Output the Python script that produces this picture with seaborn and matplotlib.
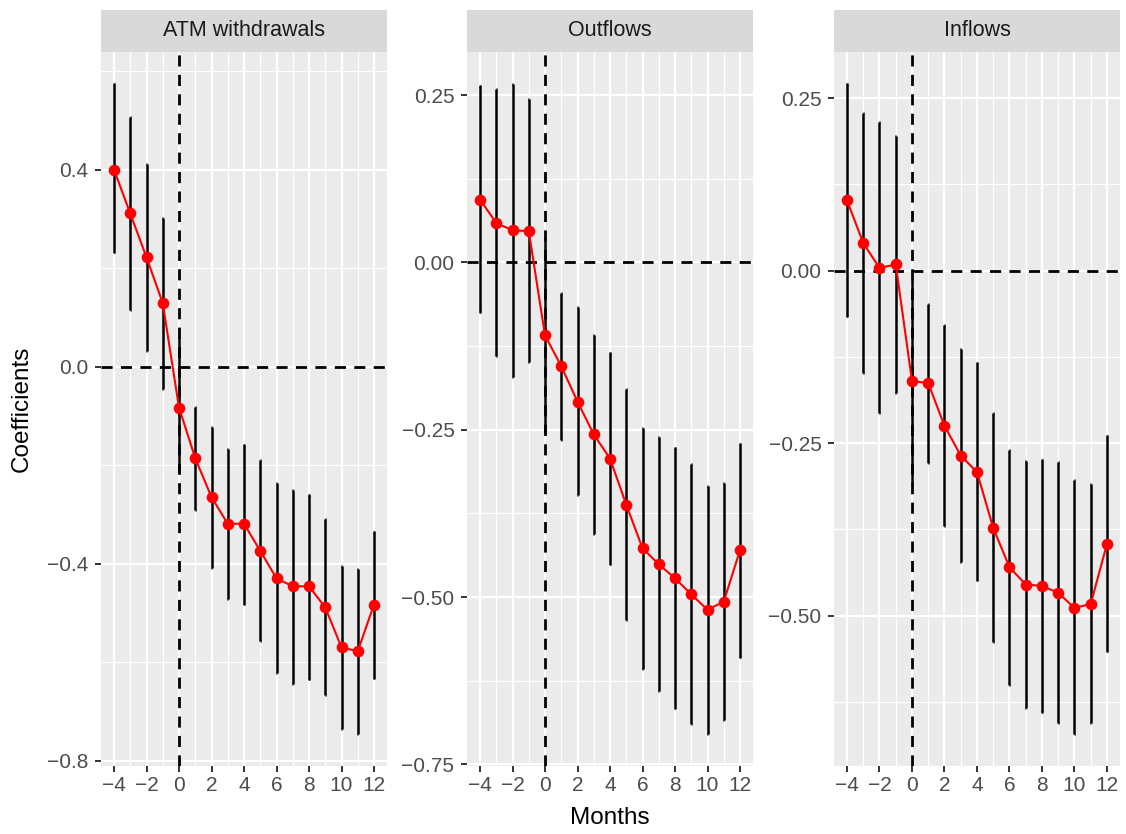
import numpy as np
import pandas as pd
import matplotlib
matplotlib.use('Agg')
import matplotlib.pyplot as plt
import seaborn as sns

plt.rcParams['font.family'] = ['Liberation Sans', 'DejaVu Sans']

# event-time months
months = list(range(-4, 13))

# ATM withdrawals
atm_coef = [0.400, 0.311, 0.222, 0.129, -0.083, -0.186, -0.265, -0.319, -0.319,
            -0.374, -0.430, -0.446, -0.446, -0.489, -0.570, -0.578, -0.483]
atm_hi = [0.573, 0.506, 0.411, 0.301, 0.060, -0.081, -0.123, -0.167, -0.160,
          -0.190, -0.236, -0.251, -0.260, -0.310, -0.405, -0.411, -0.335]
atm_lo = [0.232, 0.116, 0.031, -0.046, -0.211, -0.292, -0.408, -0.472, -0.482,
          -0.558, -0.622, -0.644, -0.634, -0.667, -0.735, -0.745, -0.632]

# Outflows
out_coef = [0.094, 0.059, 0.048, 0.047, -0.109, -0.155, -0.208, -0.257, -0.293,
            -0.362, -0.427, -0.451, -0.472, -0.496, -0.519, -0.507, -0.430]
out_hi = [0.263, 0.259, 0.266, 0.244, 0.037, -0.046, -0.067, -0.108, -0.136,
          -0.189, -0.247, -0.261, -0.277, -0.301, -0.334, -0.330, -0.271]
out_lo = [-0.074, -0.140, -0.171, -0.149, -0.253, -0.265, -0.348, -0.406, -0.450,
          -0.535, -0.607, -0.640, -0.666, -0.690, -0.704, -0.684, -0.589]

# Inflows
in_coef = [0.102, 0.040, 0.004, 0.009, -0.160, -0.163, -0.225, -0.268, -0.292,
           -0.373, -0.430, -0.455, -0.457, -0.467, -0.489, -0.483, -0.396]
in_hi = [0.270, 0.228, 0.215, 0.195, -0.013, -0.049, -0.079, -0.114, -0.134,
         -0.207, -0.260, -0.276, -0.274, -0.278, -0.304, -0.309, -0.239]
in_lo = [-0.066, -0.148, -0.206, -0.178, -0.308, -0.279, -0.370, -0.422, -0.449,
         -0.539, -0.600, -0.634, -0.640, -0.656, -0.671, -0.655, -0.552]

panel_names = ['ATM withdrawals', 'Outflows', 'Inflows']
y_major = [[-0.8, -0.4, 0.0, 0.4],
           [-0.75, -0.50, -0.25, 0.00, 0.25],
           [-0.50, -0.25, 0.00, 0.25]]
y_labels = [['\u22120.8', '\u22120.4', '0.0', '0.4'],
            ['\u22120.75', '\u22120.50', '\u22120.25', '0.00', '0.25'],
            ['\u22120.50', '\u22120.25', '0.00', '0.25']]
x_major = [-4, -2, 0, 2, 4, 6, 8, 10, 12]
x_labels = ['\u22124', '\u22122', '0', '2', '4', '6', '8', '10', '12']

frames = []
for name, c, lo, hi in zip(panel_names,
                           [atm_coef, out_coef, in_coef],
                           [atm_lo, out_lo, in_lo],
                           [atm_hi, out_hi, in_hi]):
    frames.append(pd.DataFrame({'panel': name, 'month': months,
                                'coef': c, 'lo': lo, 'hi': hi}))
df = pd.concat(frames, ignore_index=True)

W, H = 1126, 834
fig = plt.figure(figsize=(W / 100, H / 100), dpi=100)

panel_left = [101, 467, 834]
panel_w = 286
top_px, bottom_px = 52, 766
strip_top = 10

grid_major = 1.6
grid_minor = 0.8

for i, name in enumerate(panel_names):
    sub = df[df['panel'] == name]
    ax = fig.add_axes([panel_left[i] / W, (H - bottom_px) / H,
                       panel_w / W, (bottom_px - top_px) / H])
    ax.set_facecolor('#EBEBEB')
    for s in ax.spines.values():
        s.set_visible(False)

    # limits like ggplot: 5% expansion of data range
    ymin, ymax = min(sub['lo'].min(), 0), max(sub['hi'].max(), 0)
    pad = (ymax - ymin) * 0.05
    ax.set_ylim(ymin - pad, ymax + pad)
    xpad = (max(months) - min(months)) * 0.05
    ax.set_xlim(min(months) - xpad, max(months) + xpad)

    # grid
    ymaj = y_major[i]
    step = ymaj[1] - ymaj[0]
    ymin_all = [v + step / 2 for v in [ymaj[0] - step] + ymaj]
    for v in ymin_all:
        ax.axhline(v, color='white', lw=grid_minor, zorder=0)
    for v in ymaj:
        ax.axhline(v, color='white', lw=grid_major, zorder=0)
    for v in range(-3, 12, 2):
        ax.axvline(v, color='white', lw=grid_minor, zorder=0)
    for v in x_major:
        ax.axvline(v, color='white', lw=grid_major, zorder=0)

    # reference lines
    ax.axhline(0, color='black', lw=2.0, ls=(0, (4, 3)), zorder=1)
    ax.axvline(0, color='black', lw=2.0, ls=(0, (4, 3)), zorder=1)

    # error bars
    ax.vlines(sub['month'], sub['lo'], sub['hi'], color='black', lw=1.8, zorder=2)
    ax.hlines(sub['lo'], sub['month'] - 0.04, sub['month'] + 0.04, color='black', lw=1.8, zorder=2)
    ax.hlines(sub['hi'], sub['month'] - 0.04, sub['month'] + 0.04, color='black', lw=1.8, zorder=2)

    sns.lineplot(data=sub, x='month', y='coef', color='red', linewidth=1.5,
                 ax=ax, zorder=3)
    sns.scatterplot(data=sub, x='month', y='coef', color='red', s=70,
                    linewidth=0, ax=ax, zorder=4)

    ax.set_xlabel('')
    ax.set_ylabel('')
    ax.set_xticks(x_major)
    ax.set_xticklabels(x_labels)
    ax.set_yticks(ymaj)
    ax.set_yticklabels(y_labels[i])
    ax.tick_params(axis='both', length=4, width=1.4, color='#333333',
                   labelsize=15, labelcolor='#4D4D4D')
    ax.tick_params(axis='y', pad=5)
    ax.tick_params(axis='x', pad=3)
    ax.grid(False)

    # facet strip
    sax = fig.add_axes([panel_left[i] / W, (H - top_px) / H,
                        panel_w / W, (top_px - strip_top) / H])
    sax.set_facecolor('#D9D9D9')
    sax.set_xticks([])
    sax.set_yticks([])
    for s in sax.spines.values():
        s.set_visible(False)
    sax.text(0.5, 0.5, name, ha='center', va='center', fontsize=15.5,
             color='#1A1A1A', transform=sax.transAxes)

fig.text(22 / W, 1 - 409 / H, 'Coefficients', rotation=90, ha='center',
         va='center', fontsize=17.5, color='black')
fig.text(610 / W, 1 - 818 / H, 'Months', ha='center', va='center',
         fontsize=17.5, color='black')

fig.savefig('out.png', dpi=100, facecolor='white')
